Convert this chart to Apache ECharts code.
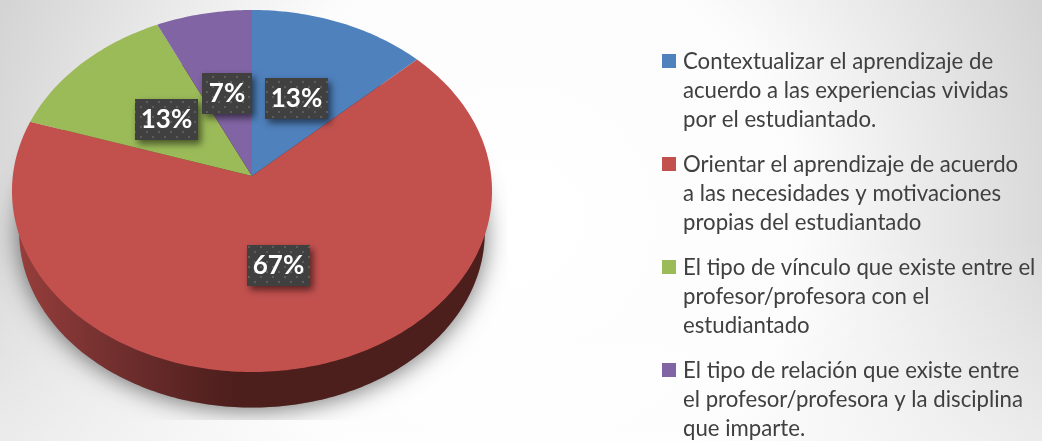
<!DOCTYPE html>
<html><head><meta charset="utf-8">
<style>html,body{margin:0;padding:0;overflow:hidden}#c{width:1042px;height:441px}</style>
<script src="https://cdn.jsdelivr.net/npm/echarts@6/dist/echarts.min.js"></script>
</head><body><div id="c"></div>
<script>
const categories = [
  'Contextualizar el aprendizaje de\nacuerdo a las experiencias vividas\npor el estudiantado.',
  'Orientar el aprendizaje de acuerdo\na las necesidades y motivaciones\npropias del estudiantado',
  'El tipo de vínculo que existe entre el\nprofesor/profesora con el\nestudiantado',
  'El tipo de relación que existe entre\nel profesor/profesora y la disciplina\nque imparte.'
];
const values = [13, 67, 13, 7];
const colors = ['#4f81bd', '#c2514e', '#9bbb59', '#8164a4'];

const total = values.reduce((a, b) => a + b, 0);
const CX = 252, CY = 176, PX = 239.2, PY = 179.76, P = 0.0829;
// Tilted-disc projection of a point on the unit circle
function proj(deg, s, dy) {
  const t = deg * Math.PI / 180, u = Math.sin(t) * s, v = Math.cos(t) * s, d = 1 + P * v;
  return [CX + PX * u / d, CY - PY * v / d + (dy || 0)];
}
function arc(a0, a1) {
  const pts = [], n = Math.max(2, Math.ceil(Math.abs(a1 - a0)));
  for (let i = 0; i <= n; i++) pts.push(proj(a0 + (a1 - a0) * i / n, 1));
  return pts;
}
const starts = []; let acc = 0;
values.forEach(v => { starts.push(acc / total * 360); acc += v; });
const ring = []; for (let i = 0; i < 360; i++) ring.push(proj(i, 0.97, 42));

const dots = document.createElement('canvas'); dots.width = 12; dots.height = 10;
const dc = dots.getContext('2d'); dc.fillStyle = '#5d5d5d';
dc.fillRect(2, 1, 2, 2); dc.fillRect(8, 6, 2, 2);

const chart = echarts.init(document.getElementById('c'), null, { renderer: 'canvas' });
chart.setOption({
  animation: false,
  backgroundColor: { type: 'radial', x: 0.5, y: 0.5, r: 1.27, colorStops: [
    { offset: 0, color: '#ffffff' }, { offset: 0.5, color: '#fcfcfc' }, { offset: 1, color: '#d4d4d4' } ] },
  series: [
    { type: 'custom', coordinateSystem: 'none', z: 1, silent: true, data: [0],
      renderItem: () => ({ type: 'group', children: [
        { type: 'rect', shape: { x: 0, y: 240, width: 1042, height: 201 },
          style: { fill: { type: 'linear', x: 0, y: 0, x2: 0, y2: 1, colorStops: [
            { offset: 0, color: 'rgba(255,255,255,0)' }, { offset: 1, color: 'rgba(255,255,255,0.55)' } ] } } },
        { type: 'polygon', shape: { points: ring },
          clipPath: { type: 'rect', shape: { x: 0, y: 0, width: 507, height: 420 } },
          style: { fill: '#888', shadowBlur: 24, shadowColor: 'rgba(0,0,0,0.55)', shadowOffsetY: 2 } },
        { type: 'polygon', shape: { points: ring },
          style: { fill: { type: 'linear', x: 0, y: 0, x2: 1, y2: 0, colorStops: [
            { offset: 0, color: '#963e3b' }, { offset: 0.18, color: '#753130' }, { offset: 0.4, color: '#552220' },
            { offset: 0.47, color: '#4c1e1c' }, { offset: 1, color: '#4c1e1c' } ] } } }
      ] }) },
    { type: 'custom', coordinateSystem: 'none', z: 2, silent: true, data: values,
      renderItem: (p, api) => {
        const i = p.dataIndex, a0 = starts[i], a1 = a0 + api.value(0) / total * 360;
        return { type: 'polygon', shape: { points: [[CX, CY]].concat(arc(a0, a1)) }, style: { fill: colors[i] } };
      } },
    { type: 'custom', coordinateSystem: 'none', z: 3, silent: true, data: values,
      renderItem: (p, api) => {
        const i = p.dataIndex, v = api.value(0), mid = starts[i] + v / total * 180, c = proj(mid, 0.49);
        const txt = v + '%', w = 24 + 13 * txt.length, h = 41, x = Math.round(c[0] - w / 2), y = Math.round(c[1] - h / 2);
        return { type: 'group', children: [
          { type: 'rect', shape: { x, y, width: w, height: h },
            style: { fill: '#404040', shadowBlur: 7, shadowOffsetX: 3, shadowOffsetY: 4, shadowColor: 'rgba(0,0,0,0.55)' } },
          { type: 'rect', shape: { x, y, width: w, height: h }, style: { fill: { image: dots, repeat: 'repeat' } } },
          { type: 'text', style: { x: x + w / 2, y: y + h / 2, text: txt, fill: '#fff', align: 'center', verticalAlign: 'middle',
            font: 'bold 26px Lato' } }
        ] };
      } },
    { type: 'custom', coordinateSystem: 'none', z: 3, silent: true, data: categories.map((c, i) => i),
      renderItem: p => {
        const i = p.dataIndex, y = 54 + 103 * i;
        return { type: 'group', children: [
          { type: 'rect', shape: { x: 662, y, width: 14, height: 14 }, style: { fill: colors[i] } },
          { type: 'text', style: { x: 683, y: y - 7, text: categories[i], fill: '#404040', align: 'left', verticalAlign: 'top',
            font: '22.2px Lato', lineHeight: 29 } }
        ] };
      } }
  ]
});
</script></body></html>
